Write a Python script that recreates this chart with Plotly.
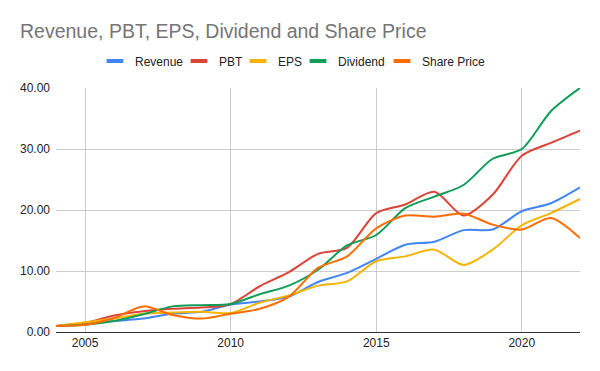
import plotly.graph_objects as go

years = list(range(2004, 2023))
revenue = [1.0, 1.3, 1.8, 2.2, 3.0, 3.3, 4.5, 5.0, 5.8, 8.2, 9.7, 12.0, 14.3, 14.8, 16.7, 16.8, 19.8, 21.1, 23.7]
pbt = [1.0, 1.5, 2.7, 3.4, 3.8, 4.0, 4.6, 7.5, 9.8, 12.8, 13.8, 19.5, 20.9, 23.0, 19.1, 22.5, 28.9, 31.0, 33.0]
eps = [1.0, 1.6, 2.2, 3.0, 3.2, 3.3, 3.1, 4.8, 6.0, 7.6, 8.3, 11.6, 12.4, 13.5, 11.0, 13.5, 17.5, 19.5, 21.8]
dividend = [1.0, 1.2, 1.8, 2.9, 4.2, 4.4, 4.6, 6.2, 7.6, 10.2, 14.2, 15.9, 20.3, 22.2, 24.1, 28.4, 30.0, 36.2, 40.0]
share_price = [1.0, 1.2, 2.3, 4.2, 2.8, 2.2, 3.0, 3.8, 5.8, 10.5, 12.4, 17.0, 19.1, 18.9, 19.4, 17.6, 16.8, 18.7, 15.4]

series = [
    ("Revenue", revenue, "#4285F4"),
    ("PBT", pbt, "#DB4437"),
    ("EPS", eps, "#F4B400"),
    ("Dividend", dividend, "#0F9D58"),
    ("Share Price", share_price, "#FF6D01"),
]
# left edge (px) of each legend entry's label in the reference
legend_text_x = [135, 219, 278, 338, 422]

FONT = "Liberation Sans, Arial, sans-serif"

fig = go.Figure()
for name, vals, color in series:
    fig.add_trace(go.Scatter(
        x=years, y=vals, name=name, mode="lines", showlegend=False,
        legendgroup=name,
        line=dict(color=color, width=2, shape="spline", smoothing=0.8),
    ))

legend_layouts = {}
for i, (name, vals, color) in enumerate(series):
    key = "legend" if i == 0 else f"legend{i + 1}"
    fig.add_trace(go.Scatter(
        x=[None], y=[None], name=name, mode="markers", legendgroup=name,
        legend=key,
        marker=dict(symbol="line-ew", size=12, color=color,
                    line=dict(width=4, color=color)),
    ))
    legend_layouts[key] = dict(
        orientation="h", xref="container", x=(legend_text_x[i] - 40) / 600,
        xanchor="left", yref="container", y=1 - 61 / 371, yanchor="middle",
        font=dict(size=12, color="#222222", family=FONT), itemwidth=30,
        bgcolor="rgba(0,0,0,0)", borderwidth=0,
    )

fig.update_layout(
    width=600, height=371,
    paper_bgcolor="white", plot_bgcolor="white",
    font=dict(family=FONT, color="#222222", size=12),
    title=dict(text="Revenue, PBT, EPS, Dividend and Share Price",
               x=20 / 600, xanchor="left", xref="container",
               y=1 - 31 / 371, yanchor="middle", yref="container",
               font=dict(size=19.5, color="#757575", family=FONT)),
    margin=dict(l=56, r=20, t=88, b=39, autoexpand=False),
    showlegend=True,
    xaxis=dict(range=[2004, 2022], tick0=2005, dtick=5, showgrid=True,
               gridcolor="#cccccc", gridwidth=1, zeroline=False,
               showline=True, linecolor="#333333", linewidth=1,
               ticks="", automargin=False,
               tickfont=dict(size=12, color="#222222")),
    yaxis=dict(range=[0, 40], dtick=10, tickformat=".2f", showgrid=True,
               gridcolor="#cccccc", gridwidth=1, zeroline=False,
               ticks="", automargin=False, ticklabelstandoff=5,
               tickfont=dict(size=12, color="#222222")),
    **legend_layouts,
)

fig.write_html("out.html", config={"displayModeBar": False},
               post_script="document.body.style.margin='0';")
